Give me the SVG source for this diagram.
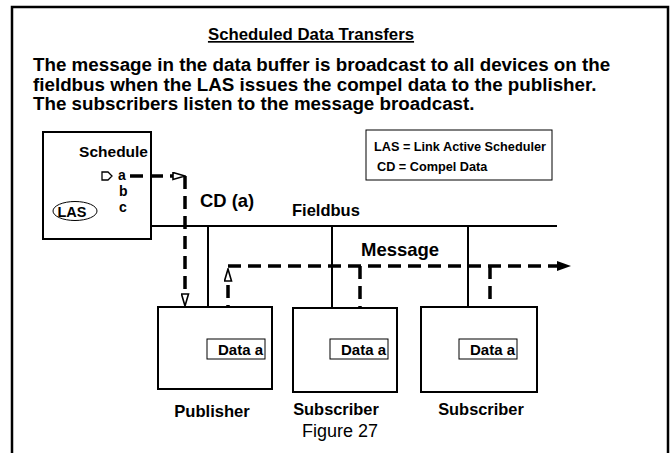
<svg xmlns="http://www.w3.org/2000/svg" width="670" height="453" viewBox="0 0 670 453">
<defs>
<style>
text{font-family:"Liberation Sans",Arial,sans-serif;font-weight:bold;fill:#000}
.box{fill:#fff;stroke:#000;stroke-width:2}
.thin{fill:#fff;stroke:#000;stroke-width:1}
.bus{stroke:#000;stroke-width:2;fill:none}
.dash{stroke:#000;stroke-width:3.5;fill:none;stroke-dasharray:13 7}
</style>
<marker id="open" viewBox="0 0 14 9" refX="1" refY="4.5" markerWidth="14" markerHeight="9" orient="auto" markerUnits="userSpaceOnUse">
<path d="M1,1 L13,4.5 L1,8 Z" fill="#fff" stroke="#000" stroke-width="1.6" stroke-linejoin="miter"/>
</marker>
<marker id="solid" viewBox="0 0 14 11" refX="0" refY="5.5" markerWidth="14" markerHeight="11" orient="auto" markerUnits="userSpaceOnUse">
<path d="M0,0.5 L14,5.5 L0,10.5 Z" fill="#000"/>
</marker>
</defs>
<rect x="0" y="0" width="670" height="453" fill="#fff"/>
<path d="M12,460 V7 H668 V460" fill="none" stroke="#000" stroke-width="2.5"/>
<text x="311" y="40" text-anchor="middle" font-size="16.8" text-decoration="underline">Scheduled Data Transfers</text>
<text x="33" y="71" font-size="18.8">The message in the data buffer is broadcast to all devices on the</text>
<text x="33" y="91" font-size="18.8">fieldbus when the LAS issues the compel data to the publisher.</text>
<text x="33" y="110" font-size="18.8">The subscribers listen to the message broadcast.</text>

<g id="schedule">
<rect class="box" x="43" y="132" width="108" height="107"/>
<text x="148" y="157" font-size="15.5" text-anchor="end">Schedule</text>
<path d="M102,172 H108 L112,176 L108,180 H102 Z" fill="#fff" stroke="#000" stroke-width="1.3"/>
<text x="118" y="180" font-size="14">a</text>
<text x="119" y="196" font-size="14">b</text>
<text x="119" y="212" font-size="14">c</text>
<ellipse cx="75" cy="211" rx="22" ry="9.5" fill="none" stroke="#000" stroke-width="1"/>
<text x="72" y="216.5" font-size="14.5" text-anchor="middle">LAS</text>
</g>

<g id="legend">
<rect class="thin" x="366" y="130" width="186" height="50"/>
<text x="374" y="151" font-size="12.7">LAS = Link Active Scheduler</text>
<text x="377" y="171" font-size="12.7">CD = Compel Data</text>
</g>

<text x="200" y="207" font-size="18.4">CD (a)</text>
<text x="292" y="216" font-size="16.5">Fieldbus</text>
<text x="361" y="256" font-size="18.5">Message</text>

<g id="connectors">
<line class="bus" x1="151" y1="226" x2="557" y2="226"/>
<line class="bus" x1="208" y1="226" x2="208" y2="307"/>
<line class="bus" x1="332" y1="226" x2="332" y2="308"/>
<line class="bus" x1="468" y1="226" x2="468" y2="307"/>
<path class="dash" d="M130,176 H173" marker-end="url(#open)"/>
<path class="dash" d="M185,176 V294" marker-end="url(#open)"/>
<path class="dash" d="M228,338 V281" marker-end="url(#open)"/>
<path class="dash" d="M228,266 H557" marker-end="url(#solid)"/>
<path class="dash" d="M360,266 V321" marker-end="url(#open)"/>
<path class="dash" d="M490,266 V321" marker-end="url(#open)"/>
</g>

<g id="publisher">
<rect class="box" x="158" y="307" width="114" height="82"/>
<rect class="thin" x="207" y="339" width="58" height="20"/>
<text x="263" y="355" font-size="15" text-anchor="end">Data a</text>
<text x="212" y="417" font-size="16.6" text-anchor="middle">Publisher</text>
</g>
<g id="subscriber1">
<rect class="box" x="293" y="308" width="104" height="84"/>
<rect class="thin" x="330" y="339" width="58" height="20"/>
<text x="386" y="355" font-size="15" text-anchor="end">Data a</text>
<text x="336" y="415" font-size="16.4" text-anchor="middle">Subscriber</text>
</g>
<g id="subscriber2">
<rect class="box" x="421" y="307" width="116" height="85"/>
<rect class="thin" x="459" y="339" width="58" height="20"/>
<text x="515" y="355" font-size="15" text-anchor="end">Data a</text>
<text x="481" y="415" font-size="16.4" text-anchor="middle">Subscriber</text>
</g>
<text x="340" y="437" font-size="18" text-anchor="middle" style="font-weight:normal">Figure 27</text>
</svg>
